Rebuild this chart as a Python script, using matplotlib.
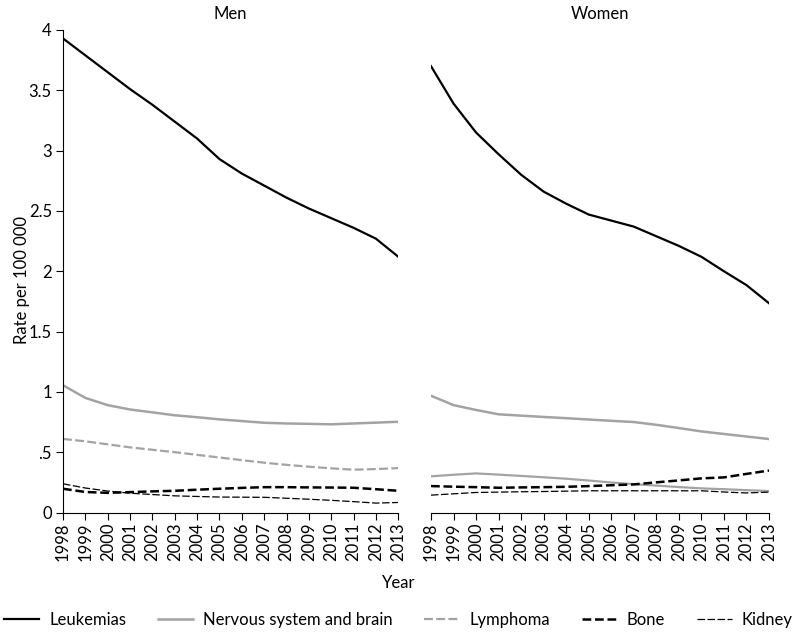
import numpy as np
import matplotlib
matplotlib.use("Agg")
import matplotlib.pyplot as plt

plt.rcParams['font.family'] = ['Lato', 'DejaVu Sans']

years = list(range(1998, 2014))
year_labels = [str(y) for y in years]

# Men
men_leukemia = [3.93, 3.79, 3.65, 3.51, 3.38, 3.24, 3.10, 2.93, 2.81, 2.71,
                2.61, 2.52, 2.44, 2.36, 2.27, 2.12]
men_nervous = [1.055, 0.95, 0.89, 0.854, 0.83, 0.806, 0.79, 0.772, 0.758, 0.744,
               0.738, 0.735, 0.731, 0.738, 0.745, 0.752]
men_lymphoma = [0.61, 0.59, 0.565, 0.54, 0.52, 0.50, 0.478, 0.456, 0.434, 0.413,
                0.395, 0.38, 0.366, 0.355, 0.36, 0.368]
men_bone = [0.197, 0.17, 0.163, 0.169, 0.175, 0.18, 0.189, 0.197, 0.204, 0.21,
            0.21, 0.208, 0.207, 0.205, 0.193, 0.18]
men_kidney = [0.238, 0.203, 0.178, 0.16, 0.149, 0.138, 0.133, 0.128, 0.127, 0.126,
              0.118, 0.11, 0.101, 0.09, 0.078, 0.083]

# Women
women_leukemia = [3.70, 3.39, 3.15, 2.97, 2.80, 2.66, 2.56, 2.47, 2.42, 2.37,
                  2.29, 2.21, 2.12, 2.00, 1.885, 1.735]
women_nervous = [0.968, 0.89, 0.85, 0.814, 0.803, 0.792, 0.782, 0.771, 0.76, 0.75,
                 0.727, 0.70, 0.672, 0.651, 0.63, 0.609]
women_lymphoma = [0.30, 0.313, 0.324, 0.314, 0.303, 0.292, 0.28, 0.265, 0.249, 0.235,
                  0.223, 0.211, 0.20, 0.193, 0.185, 0.178]
women_bone = [0.219, 0.214, 0.21, 0.205, 0.208, 0.21, 0.213, 0.219, 0.226, 0.233,
              0.25, 0.266, 0.283, 0.291, 0.32, 0.348]
women_kidney = [0.144, 0.155, 0.166, 0.169, 0.172, 0.174, 0.177, 0.18, 0.18, 0.18,
                0.18, 0.18, 0.18, 0.17, 0.162, 0.169]

series_names = ["Leukemias", "Nervous system and brain", "Lymphoma", "Bone", "Kidney"]
y_ticks = [0, 0.5, 1, 1.5, 2, 2.5, 3, 3.5, 4]
y_tick_labels = ["0", ".5", "1", "1.5", "2", "2.5", "3", "3.5", "4"]

gray = "#a3a3a3"
styles = [
    dict(color="black", lw=1.6, ls="-"),
    dict(color=gray, lw=1.8, ls="-"),
    dict(color=gray, lw=1.6, ls=(0, (4, 1.5))),
    dict(color="black", lw=1.8, ls=(0, (3.5, 1.5))),
    dict(color="black", lw=0.9, ls=(0, (6, 2))),
]

fig = plt.figure(figsize=(7.97, 6.38), dpi=100)
ax_men = fig.add_axes([63/797, 1 - 512.5/638, (398.3 - 63)/797, (512.5 - 30)/638])
ax_women = fig.add_axes([431/797, 1 - 512.5/638, (769 - 431)/797, (512.5 - 30)/638])

panels = [
    (ax_men, "Men", [men_leukemia, men_nervous, men_lymphoma, men_bone, men_kidney]),
    (ax_women, "Women", [women_leukemia, women_nervous, women_lymphoma, women_bone, women_kidney]),
]

for ax, title, data in panels:
    for name, vals, st in zip(series_names, data, styles):
        if title == "Women" and name == "Lymphoma":
            st = dict(st, ls="-")
        ax.plot(years, vals, label=name, **st)
    ax.set_xlim(1998, 2013)
    ax.set_ylim(0, 4)
    ax.set_xticks(years)
    ax.set_xticklabels(year_labels, rotation=90, fontsize=12)
    ax.tick_params(axis='x', length=5, width=0.8, pad=2)
    for s in ["top", "right"]:
        ax.spines[s].set_visible(False)
    ax.spines["bottom"].set_linewidth(0.8)

fig.text(230/797, 1 - 14/638, "Men", ha="center", va="center", fontsize=12)
fig.text(600/797, 1 - 14/638, "Women", ha="center", va="center", fontsize=12)

ax_men.set_yticks(y_ticks)
ax_men.set_yticklabels(y_tick_labels, fontsize=12)
ax_men.tick_params(axis='y', length=5, width=0.8, pad=3)
ax_men.spines["left"].set_linewidth(0.8)
fig.text(22/797, 1 - 280/638, "Rate per 100 000", rotation=90, ha="center", va="center", fontsize=12)

ax_women.spines["left"].set_visible(False)
ax_women.set_yticks([])

fig.text(0.5, 1 - 583/638, "Year", ha="center", va="center", fontsize=12)

handles, labels = ax_men.get_legend_handles_labels()
fig.legend(handles, labels, loc="center", bbox_to_anchor=(0.5, 1 - 620/638), ncol=5,
           frameon=False, fontsize=12, handlelength=2.1, columnspacing=1.9,
           handletextpad=0.6, borderpad=0.1, borderaxespad=0)

fig.savefig("out.png", dpi=100)
